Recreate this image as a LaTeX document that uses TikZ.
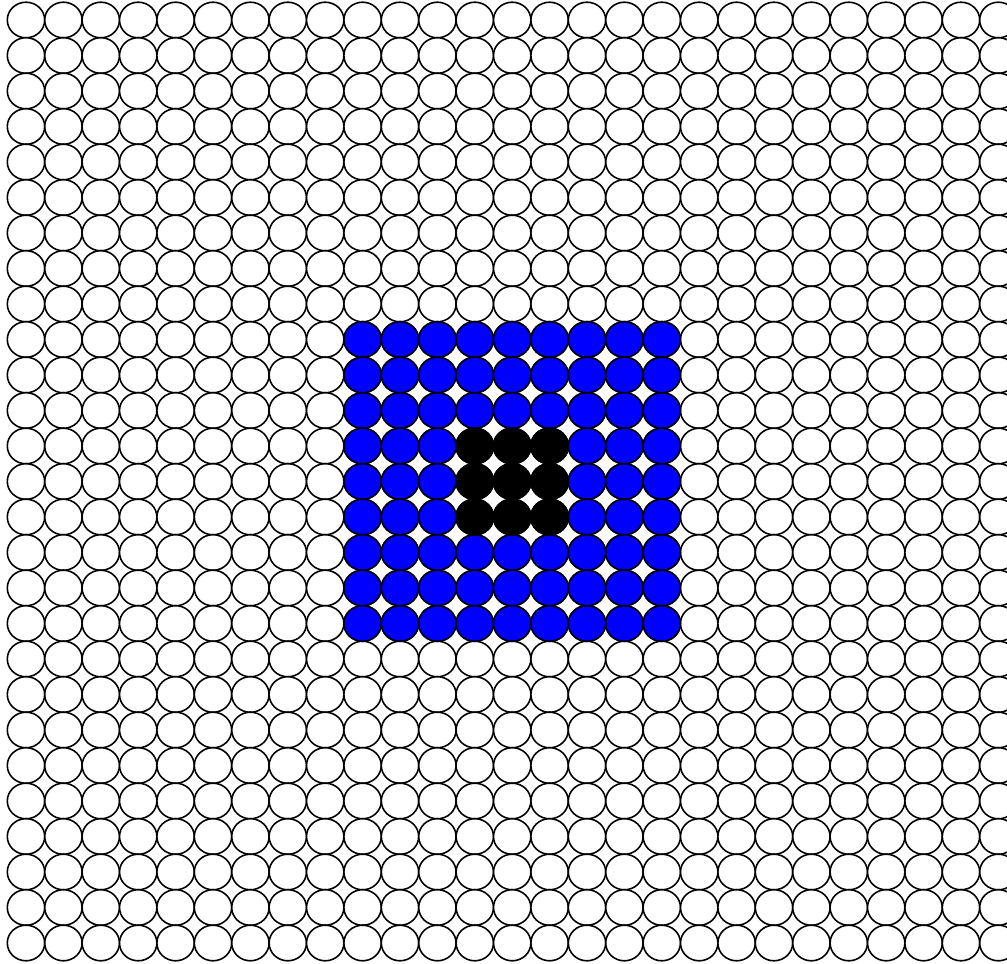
\documentclass[tikz,border=0pt]{standalone}
\usepackage{tikz}
\usetikzlibrary{calc}
\tikzset{
    cell/.style={draw=black,line width=0.45pt,fill=white},
    rim/.style={cell,fill=blue},
    core/.style={cell,fill=black},
}
% centre of cell (col, row), rows counted from the top
\newcommand{\cellpos}[2]{({0.26+0.374*#1},{9.43-0.355*#2})}
\newcommand{\cellsize}{[x radius=0.187cm, y radius=0.178cm]}

\begin{document}
\begin{tikzpicture}
    \useasboundingbox (0,0) rectangle (10.07,9.63);
    \clip (0,0) rectangle (10.07,9.63);

    % ---- empty cells ----
    \foreach \i in {0,...,26}
        \foreach \j in {0,...,26}
            \draw[cell] \cellpos{\i}{\j} ellipse \cellsize;

    % ---- blue block ----
    \foreach \i in {9,...,17}
        \foreach \j in {9,...,17}
            \draw[rim] \cellpos{\i}{\j} ellipse \cellsize;

    % ---- black core ----
    \foreach \i in {12,...,14}
        \foreach \j in {12,...,14}
            \draw[core] \cellpos{\i}{\j} ellipse \cellsize;

\end{tikzpicture}
\end{document}
